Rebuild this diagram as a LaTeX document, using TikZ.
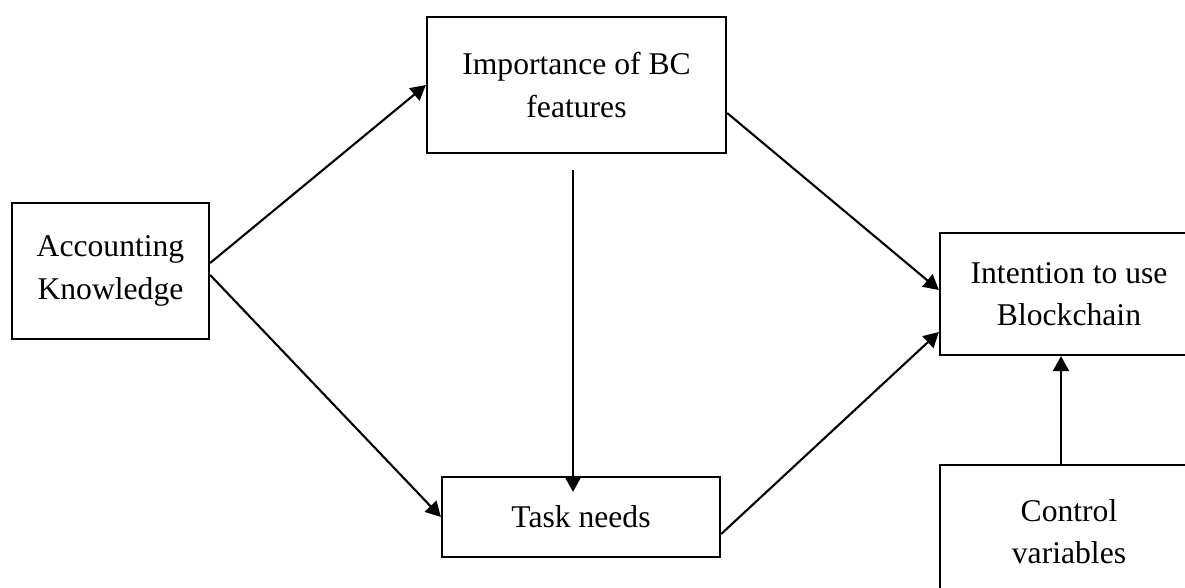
\documentclass[tikz,border=0pt]{standalone}
\usepackage{fontspec}
\setmainfont{Liberation Serif}
\usepackage{tikz}
\usetikzlibrary{arrows.meta}

\begin{document}
\begin{tikzpicture}[box/.style={draw, line width=1.3pt, inner sep=0pt, align=center, font=\fontsize{18}{24}\selectfont},
    link/.style={->, line width=1.2pt},
    >={Triangle[length=0.3cm, width=0.32cm]}]
        \useasboundingbox (0, 0) rectangle (23.7, -11.74);
        \clip (0, 0) rectangle (23.7, -11.74);
        \draw (2.21, -5.42) node(acc)[box, minimum width=3.94cm, minimum height=2.72cm]{Accounting\\Knowledge};
        \draw (11.53, -1.70) node(imp)[box, minimum width=5.98cm, minimum height=2.72cm]{Importance of BC\\features};
        \draw (11.62, -10.34) node(task)[box, minimum width=5.56cm, minimum height=1.6cm]{Task needs};
        \draw (21.38, -5.88) node(int)[box, minimum width=5.16cm, minimum height=2.44cm]{Intention to use\\Blockchain};
        \draw (21.38, -10.64) node(ctrl)[box, minimum width=5.16cm, minimum height=2.68cm]{Control\\variables};
        \draw[link] ([yshift=0.16cm]acc.east) -- (imp.west);
        \draw[link] ([yshift=-0.08cm]acc.east) -- (task.west);
        \draw[link] ([xshift=-0.07cm, yshift=-0.32cm]imp.south) -- ([xshift=-0.16cm, yshift=-0.32cm]task.north);
        \draw[link] ([yshift=-0.56cm]imp.east) -- ([yshift=0.08cm]int.west);
        \draw[link] ([yshift=-0.34cm]task.east) -- ([yshift=-0.76cm]int.west);
        \draw[link] ([xshift=-0.16cm]ctrl.north) -- ([xshift=-0.16cm]int.south);
    \end{tikzpicture}
\end{document}
